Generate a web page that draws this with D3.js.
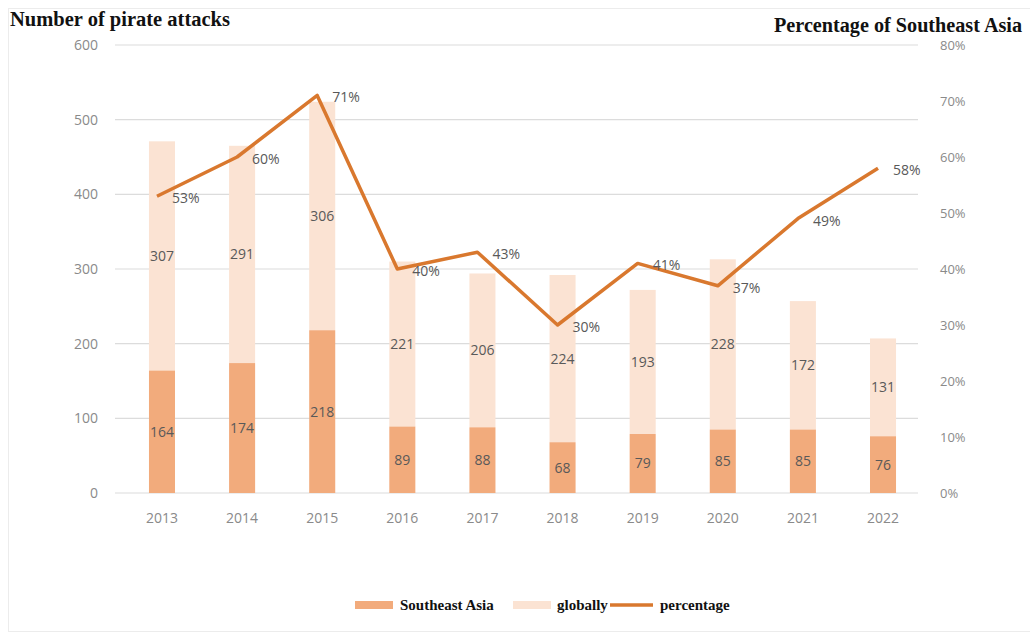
<!DOCTYPE html>
<html>
<head>
<meta charset="utf-8">
<script src="https://cdn.jsdelivr.net/npm/d3@7"></script>
<style>
  body { margin: 0; background: #fff; }
  svg { display: block; }
  .serif { font-family: "Liberation Serif", "DejaVu Serif", serif; font-weight: bold; fill: #111; }
  .tick text { font-family: "Open Sans", "Noto Sans", sans-serif; fill: #8a8a8a; }
</style>
</head>
<body>
<svg id="chart" width="1030" height="635"></svg>
<script>
// data
const years = ["2013","2014","2015","2016","2017","2018","2019","2020","2021","2022"];
const southeastAsia = [164, 174, 218, 89, 88, 68, 79, 85, 85, 76];
const globally = [307, 291, 306, 221, 206, 224, 193, 228, 172, 131];
const percentage = [53, 60, 71, 40, 43, 30, 41, 37, 49, 58];
const leftTicks = [0, 100, 200, 300, 400, 500, 600];
const rightTicks = [0, 10, 20, 30, 40, 50, 60, 70, 80];

const colDark = "#f2ab7c", colLight = "#fbe3d3", colLine = "#d9782e";

const svg = d3.select("#chart");
const plotL = 115, plotR = 918, plotT = 45, plotB = 493;

// faint frame round the chart area
svg.append("rect").attr("x", 8.5).attr("y", 8.5).attr("width", 1030).attr("height", 623)
  .attr("fill", "none").attr("stroke", "#ececec");

const x = d3.scaleBand().domain(years).range([plotL, 930]).paddingInner(0.675).paddingOuter(0.424);
const y = d3.scaleLinear().domain([0, 600]).range([plotB, plotT]);
const yp = d3.scaleLinear().domain([0, 80]).range([plotB, plotT]);

// grid
svg.append("g").selectAll("line").data(leftTicks).join("line")
  .attr("x1", plotL).attr("x2", plotR)
  .attr("y1", d => y(d)).attr("y2", d => y(d))
  .attr("stroke", "#dcdcdc").attr("stroke-width", 1.2);

// axes
const gl = svg.append("g").attr("transform", `translate(${plotL - 14},0)`)
  .call(d3.axisLeft(y).tickValues(leftTicks).tickSize(0).tickPadding(3));
gl.select(".domain").remove();
gl.selectAll("text").attr("font-size", 14);

const gr = svg.append("g").attr("transform", `translate(${plotR + 20},0)`)
  .call(d3.axisRight(yp).tickValues(rightTicks).tickSize(0).tickPadding(2).tickFormat(d => d + "%"));
gr.select(".domain").remove();
gr.selectAll("text").attr("font-size", 13);

const gx = svg.append("g").attr("transform", `translate(0,${plotB + 12})`)
  .call(d3.axisBottom(x).tickSize(0).tickPadding(8));
gx.select(".domain").remove();
gx.selectAll("text").attr("font-size", 14);

// stacked bars
const rows = years.map((yr, i) => ({ yr, sea: southeastAsia[i], glob: globally[i], pct: percentage[i] }));

svg.append("g").selectAll("rect").data(rows).join("rect")
  .attr("x", d => x(d.yr)).attr("width", x.bandwidth())
  .attr("y", d => y(d.sea + d.glob)).attr("height", d => y(d.sea) - y(d.sea + d.glob))
  .attr("fill", colLight);

svg.append("g").selectAll("rect").data(rows).join("rect")
  .attr("x", d => x(d.yr)).attr("width", x.bandwidth())
  .attr("y", d => y(d.sea)).attr("height", d => y(0) - y(d.sea))
  .attr("fill", colDark);

const labelFont = "'Open Sans', 'Noto Sans', sans-serif";
svg.append("g").selectAll("text").data(rows).join("text")
  .attr("x", d => x(d.yr) + x.bandwidth() / 2)
  .attr("y", d => (y(d.sea) + y(d.sea + d.glob)) / 2)
  .attr("dy", "0.35em").attr("text-anchor", "middle")
  .attr("font-family", labelFont).attr("font-size", 14).attr("fill", "#595959")
  .text(d => d.glob);

svg.append("g").selectAll("text").data(rows).join("text")
  .attr("x", d => x(d.yr) + x.bandwidth() / 2)
  .attr("y", d => (y(d.sea) + y(0)) / 2)
  .attr("dy", "0.35em").attr("text-anchor", "middle")
  .attr("font-family", labelFont).attr("font-size", 14).attr("fill", "#595959")
  .text(d => d.sea);

// percentage line
const line = d3.line().x(d => x(d.yr) + x.bandwidth() / 2 - 5).y(d => yp(d.pct));
svg.append("path").datum(rows).attr("d", line)
  .attr("fill", "none").attr("stroke", colLine).attr("stroke-width", 3.5)
  .attr("stroke-linejoin", "round");

svg.append("g").selectAll("text").data(rows).join("text")
  .attr("x", d => x(d.yr) + x.bandwidth() / 2 + 10)
  .attr("y", d => yp(d.pct) + 2)
  .attr("dy", "0.35em")
  .attr("font-family", labelFont).attr("font-size", 14).attr("fill", "#595959")
  .text(d => d.pct + "%");

// titles
svg.append("text").attr("class", "serif").attr("x", 10).attr("y", 26).attr("font-size", 20.5)
  .text("Number of pirate attacks");
svg.append("text").attr("class", "serif").attr("x", 774).attr("y", 32).attr("font-size", 20.2)
  .text("Percentage of Southeast Asia");

// legend
const lg = svg.append("g").attr("transform", "translate(0,605)");
lg.append("rect").attr("x", 355).attr("y", -4).attr("width", 38).attr("height", 8).attr("fill", colDark);
lg.append("text").attr("class", "serif").attr("x", 400).attr("y", 5).attr("font-size", 15).text("Southeast Asia");
lg.append("rect").attr("x", 513).attr("y", -4).attr("width", 38).attr("height", 8).attr("fill", colLight);
lg.append("text").attr("class", "serif").attr("x", 557).attr("y", 5).attr("font-size", 15).text("globally");
lg.append("line").attr("x1", 610).attr("x2", 653).attr("y1", 0).attr("y2", 0)
  .attr("stroke", colLine).attr("stroke-width", 3.5);
lg.append("text").attr("class", "serif").attr("x", 660).attr("y", 5).attr("font-size", 15).text("percentage");
</script>
</body>
</html>
